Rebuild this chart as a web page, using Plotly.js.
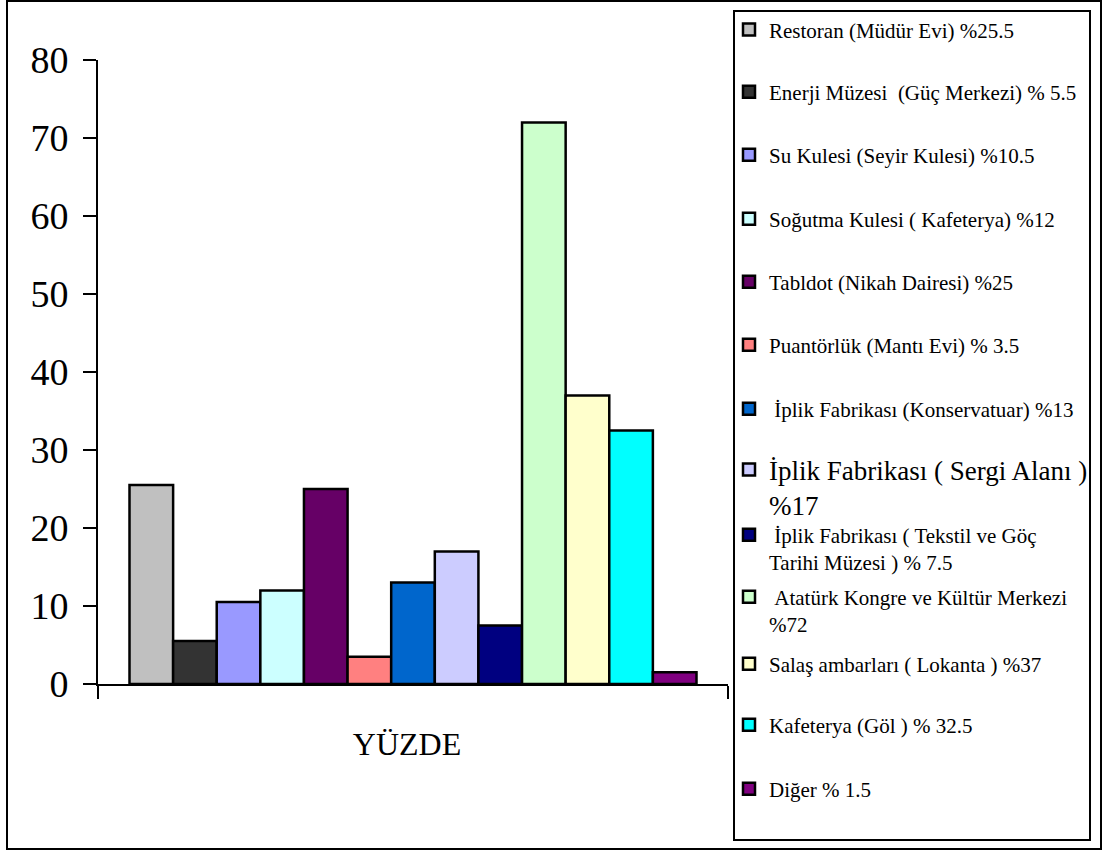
<!DOCTYPE html>
<html><head><meta charset="utf-8">
<script src="https://cdn.plot.ly/plotly-3.0.1.min.js"></script>
<style>html,body{margin:0;padding:0;background:#fff}</style>
</head><body>
<div id="chart" style="width:1103px;height:852px"></div>
<script>
// ---- data ----
const categories = ['YÜZDE'];
const seriesNames = [
  'Restoran (Müdür Evi) %25.5',
  'Enerji Müzesi \u00a0(Güç Merkezi) % 5.5',
  'Su Kulesi (Seyir Kulesi) %10.5',
  'Soğutma Kulesi ( Kafeterya) %12',
  'Tabldot (Nikah Dairesi) %25',
  'Puantörlük (Mantı Evi) % 3.5',
  '\u00a0İplik Fabrikası (Konservatuar) %13',
  'İplik Fabrikası ( Sergi Alanı )<br>%17',
  '\u00a0İplik Fabrikası ( Tekstil ve Göç<br>Tarihi Müzesi ) % 7.5',
  '\u00a0Atatürk Kongre ve Kültür Merkezi<br>%72',
  'Salaş ambarları ( Lokanta ) %37',
  'Kafeterya (Göl ) % 32.5',
  'Diğer % 1.5'
];
const seriesValues = [25.5, 5.5, 10.5, 12, 25, 3.5, 13, 17, 7.5, 72, 37, 32.5, 1.5];
const seriesColors = ['#C0C0C0','#333333','#9999FF','#CCFFFF','#660066','#FF8080','#0066CC',
                      '#CCCCFF','#000080','#CCFFCC','#FFFFCC','#00FFFF','#800080'];
const yTickValues = [0,10,20,30,40,50,60,70,80];

// ---- layout helpers ----
const W = 1103, H = 852;
const plotL = 98, plotR = 728, plotT = 60, plotB = 684;
const px2x = p => (p - plotL) / (plotR - plotL);
const px2y = p => (plotB - p) / (plotB - plotT);
const legendFont = [21,21,21,21,21,21,21,27,21,21,21,21,21];
const legendBaseline = [37.7,100,163,227,290,353,417,480,543,605,672,733,797];
const FONT = 'Liberation Serif, Times New Roman, serif';

const traces = seriesNames.map((name, i) => ({
  type: 'bar',
  name: name,
  x: categories,
  y: [seriesValues[i]],
  marker: {color: seriesColors[i], line: {color: '#000', width: 2.5}},
  legend: i === 0 ? 'legend' : 'legend' + (i + 1),
  hoverinfo: 'skip'
}));

const layout = {
  width: W, height: H,
  margin: {l: plotL, r: W - plotR, t: plotT, b: H - plotB, autoexpand: false},
  paper_bgcolor: '#fff', plot_bgcolor: 'rgba(0,0,0,0)',
  font: {family: FONT, color: '#000'},
  barmode: 'group', bargap: 0.1, bargroupgap: 0,
  xaxis: {
    type: 'category', tickson: 'boundaries', ticks: 'outside', ticklen: 13, tickwidth: 2,
    tickcolor: '#000', showline: true, linewidth: 2, linecolor: '#000', showgrid: false,
    tickfont: {family: FONT, size: 32, color: '#000'}, ticklabelstandoff: 31, ticklabelshift: -6,
    fixedrange: true
  },
  yaxis: {
    range: [0, 80], tickvals: yTickValues, ticks: 'outside', ticklen: 13, tickwidth: 2,
    tickcolor: '#000', showline: true, linewidth: 2, linecolor: '#000', showgrid: false,
    zeroline: false, tickfont: {family: FONT, size: 38, color: '#000'}, ticklabelstandoff: 7,
    fixedrange: true
  },
  shapes: [
    {type: 'rect', xref: 'paper', yref: 'paper', x0: px2x(734), x1: px2x(1090), y0: px2y(840), y1: px2y(11),
     line: {color: '#000', width: 2}, fillcolor: 'rgba(0,0,0,0)', layer: 'below'},
    {type: 'rect', xref: 'paper', yref: 'paper', x0: px2x(7), x1: px2x(1101), y0: px2y(849), y1: px2y(1),
     line: {color: '#000', width: 2}, fillcolor: 'rgba(0,0,0,0)', layer: 'below'}
  ],
  showlegend: true
};

seriesNames.forEach((n, i) => {
  const fs = legendFont[i];
  const top = legendBaseline[i] - (6.5 + 0.8 * 1.3 * fs);
  const key = i === 0 ? 'legend' : 'legend' + (i + 1);
  layout[key] = {
    x: px2x(729), xanchor: 'left', y: px2y(top), yanchor: 'top',
    bgcolor: 'rgba(0,0,0,0)', borderwidth: 0, valign: 'top',
    font: {family: FONT, size: fs, color: '#000'}
  };
});

Plotly.newPlot('chart', traces, layout, {staticPlot: true, displayModeBar: false});
</script>
</body></html>
